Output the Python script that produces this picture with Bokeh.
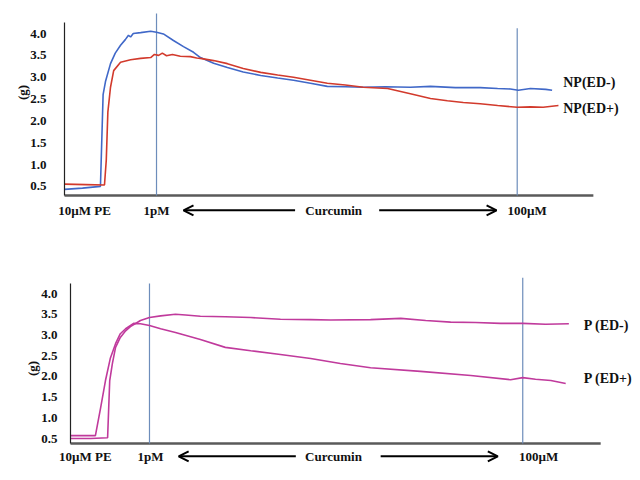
import math
from bokeh.plotting import figure
from bokeh.layouts import column
from bokeh.models import Range1d, FixedTicker, PrintfTickFormatter, Arrow, OpenHead, Label, LinearAxis
from bokeh.embed import file_html
from bokeh.resources import INLINE

# ---------------- data (time axis in arbitrary units, tension in g) ----------------
y_ticks = [0.5, 1.0, 1.5, 2.0, 2.5, 3.0, 3.5, 4.0]

# Top panel: NP rings
np_edm_x = [0, 3.4, 6.8, 7.3, 7.75, 8.7, 9.6, 10.6, 11.5, 12.1, 12.5, 13.0, 14.4, 16.3, 17.4,
            18.7, 20.6, 22.5, 24.4, 25.7, 28.2, 30.8, 33.8, 37.1, 40.3, 43.3, 46.5, 49.7,
            53.1, 56.5, 60.7, 65.4, 69.2, 73.9, 78.6, 81.9, 84.3, 85.8, 88.1, 91.0, 92.2]
np_edm_y = [0.43, 0.46, 0.50, 2.6, 2.9, 3.31, 3.55, 3.73, 3.86, 3.96, 3.92, 4.00, 4.02, 4.05, 4.03,
            3.99, 3.84, 3.70, 3.57, 3.45, 3.32, 3.22, 3.12, 3.04, 2.98, 2.93, 2.86, 2.79,
            2.78, 2.77, 2.78, 2.77, 2.79, 2.76, 2.76, 2.74, 2.73, 2.70, 2.74, 2.72, 2.70]

np_edp_x = [0, 4.0, 7.56, 7.9, 8.2, 8.7, 9.3, 10.6, 12.5, 14.4, 16.3, 17.0, 17.8, 18.5, 19.3,
            20.4, 21.9, 23.8, 25.0, 25.7, 28.2, 30.8, 33.8, 37.1, 40.3, 43.3, 46.5, 49.7,
            53.1, 56.5, 61.1, 65.4, 69.2, 72.4, 75.4, 78.6, 81.9, 85.6, 88.1, 90.5, 93.4]
np_edp_y = [0.55, 0.54, 0.53, 1.1, 2.2, 2.77, 3.15, 3.34, 3.40, 3.43, 3.45, 3.52, 3.50, 3.55, 3.49,
            3.52, 3.48, 3.47, 3.44, 3.43, 3.38, 3.31, 3.20, 3.11, 3.05, 3.00, 2.93, 2.86,
            2.82, 2.77, 2.74, 2.62, 2.51, 2.46, 2.42, 2.39, 2.35, 2.31, 2.32, 2.31, 2.35]

# Bottom panel: P rings
p_edm_x = [0, 3.8, 7.0, 7.4, 7.9, 8.5, 9.4, 10.4, 11.3, 13.2, 14.9, 17.0, 19.8, 21.7, 24.5,
           29.2, 34.0, 39.6, 45.3, 49.1, 56.6, 62.3, 67.0, 71.7, 76.4, 81.1, 85.3, 89.6, 94.0]
p_edm_y = [0.50, 0.50, 0.52, 1.9, 2.31, 2.70, 2.94, 3.10, 3.20, 3.35, 3.42, 3.46, 3.50, 3.48, 3.45,
           3.44, 3.42, 3.38, 3.37, 3.36, 3.37, 3.40, 3.35, 3.31, 3.30, 3.28, 3.28, 3.26, 3.27]

p_edp_x = [0, 4.7, 5.7, 6.6, 7.5, 8.5, 9.4, 10.4, 11.9, 13.2, 14.9, 17.0, 19.8, 24.5, 29.2,
           34.0, 39.6, 45.3, 50.9, 56.6, 66.0, 75.5, 83.0, 85.3, 87.7, 90.6, 93.4]
p_edp_y = [0.57, 0.57, 1.25, 1.9, 2.43, 2.79, 3.03, 3.15, 3.28, 3.27, 3.23, 3.15, 3.06, 2.89, 2.70,
           2.62, 2.53, 2.43, 2.31, 2.21, 2.12, 2.02, 1.92, 1.97, 1.93, 1.90, 1.83]

# event markers (1 pM curcumin start, 100 uM)
top_events = [17.4, 85.6]
bot_events = [14.9, 85.3]
x_texts = ["10\u00b5M PE", "1pM", "Curcumin", "100\u00b5M"]

FONT = "Liberation Serif"
BLUE = "#4068c8"
RED = "#d23a2c"
MAG = "#c03a9c"
VLINE = "#6d8dbb"


def make_panel(width, height, xr, yr, ybounds, standoff):
    p = figure(width=width, height=height, output_backend="svg", toolbar_location=None,
               x_range=Range1d(*xr), y_range=Range1d(*yr),
               x_axis_location=None, y_axis_location=None,
               min_border_left=0, min_border_right=0, min_border_top=0, min_border_bottom=0)
    p.outline_line_color = None
    p.xgrid.visible = False
    p.ygrid.visible = False
    ax = LinearAxis(fixed_location=0, bounds=ybounds, ticker=FixedTicker(ticks=y_ticks),
                    formatter=PrintfTickFormatter(format="%.1f"))
    ax.major_tick_line_color = None
    ax.minor_tick_line_color = None
    ax.axis_line_color = "#222222"
    ax.axis_line_width = 1.2
    ax.major_label_text_font = FONT
    ax.major_label_text_font_style = "bold"
    ax.major_label_text_font_size = "13px"
    ax.major_label_text_color = "#111111"
    ax.major_label_standoff = standoff
    p.add_layout(ax, "left")
    return p


def add_label(p, x, y, text, size="13px", align="center", angle=0.0):
    p.add_layout(Label(x=x, y=y, text=text, text_font=FONT, text_font_style="bold",
                       text_font_size=size, text_align=align, text_baseline="middle",
                       text_color="#111111", angle=angle))


def decorate(p, x_end, y_axis, events, ev_tops, label_y, label_pos, arrows, g_pos):
    p.segment(x0=[0], y0=[y_axis], x1=[x_end], y1=[y_axis], line_color="#5a5a5a", line_width=2.5)
    p.segment(x0=events, y0=[y_axis] * len(events), x1=events, y1=ev_tops,
              line_color=VLINE, line_width=1.2)
    for xp, t in zip(label_pos, x_texts):
        add_label(p, xp, label_y, t)
    for (xs, xe) in arrows:
        p.add_layout(Arrow(end=OpenHead(size=10, line_width=2, line_color="black"),
                           x_start=xs, y_start=label_y, x_end=xe, y_end=label_y,
                           line_width=2, line_color="black"))
    add_label(p, g_pos[0], g_pos[1], "(g)", angle=math.pi / 2)


# ---------------- top panel ----------------
p1 = make_panel(632, 240, (-12.1, 107.4), (-0.74, 4.756), (0.29, 4.25), 12)
decorate(p1, 100, 0.29, top_events, [4.46, 4.12], -0.05,
         [3.8, 17.4, 50.9, 87.5], [(43.6, 22.5), (59.5, 81.7)], (-7.9, 2.65))
p1.line(np_edm_x, np_edm_y, line_color=BLUE, line_width=1.6)
p1.line(np_edp_x, np_edp_y, line_color=RED, line_width=1.6)
add_label(p1, 94.3, 2.88, "NP(ED-)", size="14px", align="left")
add_label(p1, 94.3, 2.28, "NP(ED+)", size="14px", align="left")

# ---------------- bottom panel ----------------
p2 = make_panel(632, 232, (-13.2, 106.0), (-0.32, 5.28), (0.38, 4.24), 7)
decorate(p2, 100, 0.38, bot_events, [4.24, 4.38], 0.07,
         [2.8, 15.1, 49.6, 88.3], [(42.5, 20.4), (58.5, 80.6)], (-7.2, 2.19))
p2.line(p_edm_x, p_edm_y, line_color=MAG, line_width=1.6)
p2.line(p_edp_x, p_edp_y, line_color=MAG, line_width=1.6)
add_label(p2, 96.8, 3.23, "P (ED-)", size="14px", align="left")
add_label(p2, 96.8, 1.95, "P (ED+)", size="14px", align="left")

layout = column(p1, p2, spacing=0)
open("out.html", "w").write(file_html(layout, INLINE))
